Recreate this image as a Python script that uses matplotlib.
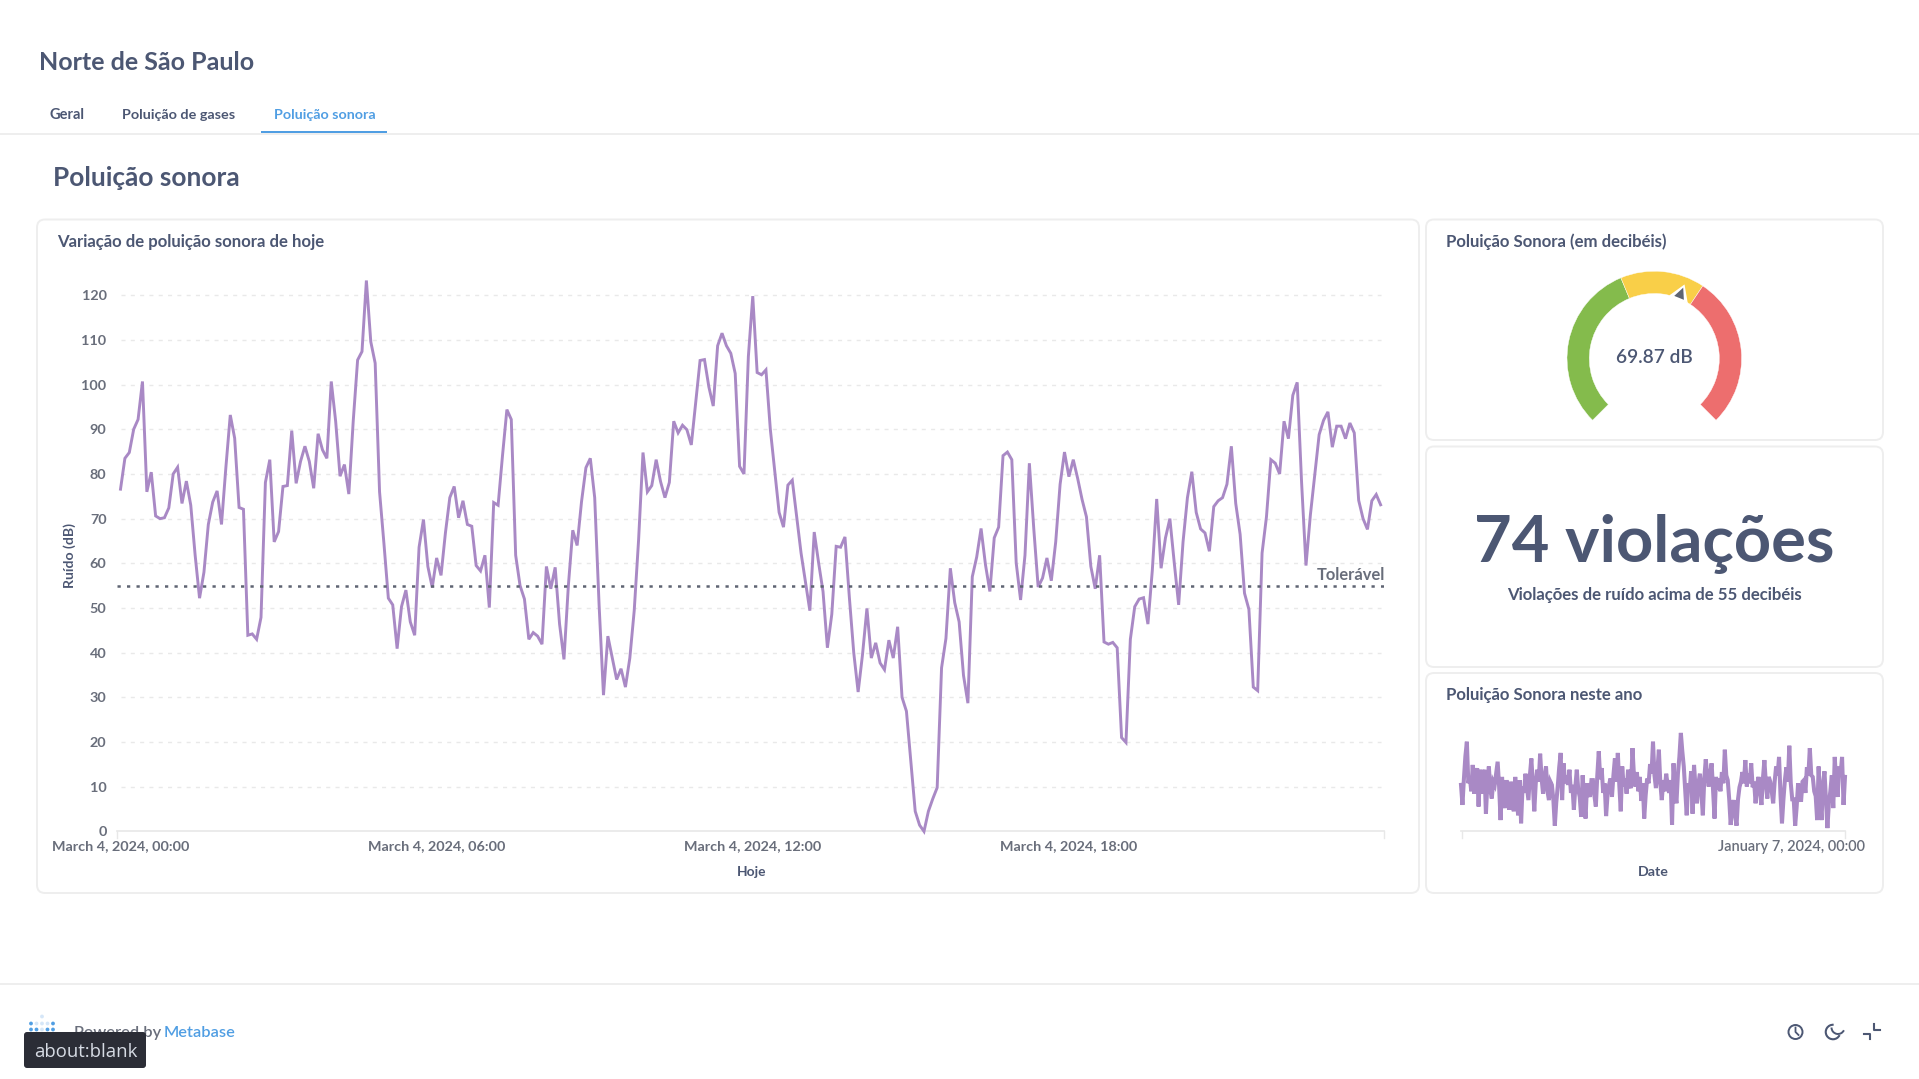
import numpy as np
import matplotlib
matplotlib.use('Agg')
import matplotlib.pyplot as plt
from matplotlib.patches import FancyBboxPatch, Rectangle, Wedge, Polygon, Circle, Arc

plt.rcParams['font.family'] = ['Lato', 'DejaVu Sans']

# noise of today, one reading every 5 minutes
noise_today = [
    76.6, 83.5, 84.8, 90, 92.2, 100.7, 76, 80.4, 70.6, 70, 70.2, 72.4, 80, 81.5, 73.4, 78.4, 73, 61.8,
    52.2, 58, 68.7, 73.7, 76.2, 68.7, 81.5, 93.2, 88, 72.5, 72.1, 43.9, 44.2, 43, 47.9, 78.1, 83.2, 64.8,
    67.1, 77.2, 77.4, 89.7, 77.9, 82.8, 86.2, 82.8, 76.8, 89, 85.4, 83.5, 100.7, 91.8, 79.5, 82.1, 75.5, 91.8,
    105.5, 107.4, 123.3, 109.6, 104.8, 76, 64.4, 52.2, 50.7, 40.9, 50.3, 54, 46.9, 43.9, 63.6, 69.8, 59.3, 54.6,
    61.2, 57.3, 66.8, 74.7, 77.2, 70.2, 74, 68.7, 68.3, 59.5, 58.3, 61.8, 50.1, 73.6, 73, 84.1, 94.4, 92.2,
    61.8, 55, 52, 43, 44.5, 43.7, 41.9, 59.3, 54.3, 59.1, 46.4, 38.5, 55, 67.4, 64, 73.8, 81.4, 83.5,
    74.7, 50.7, 30.5, 43.7, 38.8, 34, 36.4, 32.3, 38.8, 49.4, 65.3, 84.8, 76, 77.4, 83.2, 78.3, 74.7, 78.1,
    91.8, 89.2, 90.9, 89.9, 86.5, 96, 105.4, 105.6, 99.5, 95.2, 108.7, 111.5, 108.7, 107, 102.5, 81.7, 80, 106.3,
    119.8, 102.7, 102.2, 103.3, 90, 80.7, 71.4, 68.1, 77.5, 78.6, 70.4, 62.3, 55.9, 49.4, 67, 60.1, 53.7, 41.1,
    48.6, 63.8, 63.6, 65.9, 52.4, 40, 31.2, 39.6, 49.9, 38.8, 42.2, 37.7, 36.2, 42.8, 38.8, 45.8, 30, 26.9,
    15.7, 4.5, 1.4, 0, 4.5, 7.3, 9.8, 36.6, 43.2, 58.9, 51.2, 46.9, 34.9, 28.7, 57, 61.4, 67.8, 59.7,
    53.7, 65.7, 68.1, 84.1, 84.9, 83.2, 60.1, 51.8, 61.8, 82.4, 67.8, 54.7, 56.7, 61.2, 56.1, 64.8, 77.7, 84.9,
    79.4, 83.2, 79, 74.3, 70.4, 59.3, 54.3, 61.8, 42.4, 41.9, 42.3, 41.1, 21, 19.9, 43, 50.3, 52, 52.3,
    46.4, 58.4, 74.4, 58.9, 65.7, 70, 60.1, 50.7, 64.8, 74.7, 80.5, 71.4, 67.7, 66.8, 62.7, 72.7, 74, 74.7,
    77.7, 86.2, 73.4, 66.5, 53.3, 49.7, 32.3, 31.5, 62.3, 70.4, 83.2, 82.4, 80, 91.8, 87.9, 97.6, 100.5, 78.1,
    59.5, 70.8, 79.8, 88.8, 92, 93.9, 86, 90.7, 90.7, 87.9, 91.4, 89.2, 74.1, 70, 67.6, 74, 75.4, 73.1,
]

# year chart, read by eye along the band
year_db = [
    58, 33, 66, 94, 112, 60, 68, 50, 83, 47, 62, 79, 31, 77, 47, 65, 77, 22, 60, 81,
    52, 41, 62, 58, 72, 87, 56, 14, 68, 42, 29, 64, 44, 27, 62, 45, 25, 68, 40, 20,
    64, 10, 56, 48, 72, 55, 39, 70, 91, 60, 25, 60, 77, 62, 97, 66, 47, 68, 81, 50,
    39, 62, 58, 40, 7, 36, 56, 80, 98, 39, 85, 60, 70, 58, 77, 48, 58, 27, 55, 77,
    52, 43, 18, 70, 40, 16, 60, 50, 43, 64, 64, 45, 31, 70, 100, 65, 79, 48, 60, 19,
    46, 58, 66, 43, 70, 91, 62, 98, 58, 25, 81, 56, 66, 47, 77, 58, 54, 104, 70, 56,
    74, 50, 68, 38, 60, 16, 45, 66, 60, 84, 72, 112, 70, 54, 76, 102, 60, 39, 64, 50,
    72, 58, 48, 64, 8, 85, 50, 35, 72, 93, 123, 100, 81, 50, 20, 60, 50, 75, 22, 83,
    55, 35, 60, 72, 48, 20, 66, 90, 70, 56, 72, 85, 50, 16, 68, 52, 66, 50, 74, 60,
    102, 70, 64, 40, 8, 30, 39, 20, 7, 40, 55, 62, 74, 60, 89, 56, 72, 60, 85, 55,
    62, 35, 58, 68, 48, 33, 66, 89, 60, 41, 68, 62, 50, 35, 62, 81, 70, 93, 45, 10,
    40, 64, 80, 62, 107, 60, 40, 40, 7, 30, 60, 46, 37, 62, 64, 48, 80, 70, 104, 70,
    68, 50, 44, 14, 81, 40, 14, 60, 75, 40, 4, 35, 50, 70, 29, 93, 60, 43, 81, 72,
    93, 33, 68,
]

y_ticks = [0, 10, 20, 30, 40, 50, 60, 70, 80, 90, 100, 110, 120]
x_tick_hours = [0, 6, 12, 18]
x_tick_labels = ['March 4, 2024, 00:00', 'March 4, 2024, 06:00', 'March 4, 2024, 12:00', 'March 4, 2024, 18:00']
limit_db = 55
gauge_stops = [0, 50, 75, 120]
gauge_value = 69.87

DARK = '#4C5773'
GREY = '#696E7B'
BLUE = '#509EE3'
PURPLE = '#A989C5'
BORDER = '#EEEEEE'
W, H = 1919, 1079

fig = plt.figure(figsize=(W / 100, H / 100), dpi=100, facecolor='white')


def px_axes(x0, y0, x1, y1):
    # axes given in picture pixels, y counted from the top
    ax = fig.add_axes([x0 / W, 1 - y1 / H, (x1 - x0) / W, (y1 - y0) / H])
    ax.patch.set_alpha(0)
    return ax


bg = fig.add_axes([0, 0, 1, 1])
bg.set_xlim(0, W)
bg.set_ylim(H, 0)
bg.axis('off')


def txt(x, y, s, size, color=DARK, weight='bold', ha='left', **kw):
    bg.text(x, y + 1, s, fontsize=size * 0.72, color=color, fontweight=weight, ha=ha, va='center', **kw)


def card(x0, y0, x1, y1):
    bg.add_patch(FancyBboxPatch((x0 + 8, y0 + 8), x1 - x0 - 16, y1 - y0 - 16, boxstyle='round,pad=8,rounding_size=8',
                                fc='white', ec=BORDER, lw=1.4))


# header
txt(39, 61.5, 'Norte de São Paulo', 25)
txt(50, 114, 'Geral', 14.6)
txt(122.5, 114, 'Poluição de gases', 14.4)
txt(273.5, 114, 'Poluição sonora', 14.3, color=BLUE)
bg.plot([0, W], [133.5, 133.5], color=BORDER, lw=1.4)
bg.add_patch(Rectangle((261, 131), 126, 2.2, color=BLUE, lw=0))
txt(53, 177, 'Poluição sonora', 26.3)

card(37, 219.5, 1419, 893)
card(1426, 219.5, 1883, 440)
card(1426, 446.5, 1883, 667)
card(1426, 673, 1883, 893)

txt(57, 241, 'Variação de poluição sonora de hoje', 16.7)
txt(1446, 241, 'Poluição Sonora (em decibéis)', 16.7)
txt(1446, 694, 'Poluição Sonora neste ano', 16.7)

# main line chart
ax_bottom = 831.4
ax = px_axes(117, 270, 1384, ax_bottom)
hours = np.arange(len(noise_today)) * 5 / 60
ax.set_xlim(-0.8 * 5 / 60, 24 - 5 / 60 + 0.77 * 5 / 60)
ax.set_ylim(0, (ax_bottom - 270) / 4.468)
for s in ['top', 'left', 'right']:
    ax.spines[s].set_visible(False)
ax.spines['bottom'].set_color('#E8E8E8')
ax.spines['bottom'].set_linewidth(1.2)
ax.set_yticks(y_ticks)
ax.set_yticklabels([str(v) for v in y_ticks], fontsize=10.4, color=GREY, fontweight='bold')
ax.tick_params(axis='y', length=0, pad=7.5)
ax.set_xticks(x_tick_hours)
ax.set_xticklabels(x_tick_labels, fontsize=10.4, color=GREY, fontweight='bold')
ax.tick_params(axis='x', length=0, pad=6.5)
for v in y_ticks[1:]:
    ax.plot([hours[0], hours[-1]], [v, v], color='#E9E9E9', lw=1, dashes=(2.9, 3.8), zorder=1)
ax.plot(hours, noise_today, color=PURPLE, lw=2.1, zorder=3, solid_joinstyle='miter', clip_on=False)
ax.plot(ax.get_xlim(), [limit_db, limit_db], color='#5E6472', lw=1.8, dashes=(1.3, 2.5), zorder=4)
bg.plot([117, 117], [ax_bottom, 838], color='#E8E8E8', lw=1)
bg.plot([1384, 1384], [ax_bottom, 838], color='#E8E8E8', lw=1)
txt(1385, 574, 'Tolerável', 16.5, color=GREY, ha='right')
txt(70, 555, 'Ruído (dB)', 14, rotation=90, ha='center')
txt(751.5, 871, 'Hoje', 13.8, ha='center')

# gauge
gx = px_axes(1654.3 - 100, 358.5 - 100, 1654.3 + 100, 358.5 + 100)
gx.set_xlim(-100, 100)
gx.set_ylim(-100, 100)
gx.axis('off')
gauge_colors = ['#84BB4C', '#F9CF48', '#ED6E6E']


def gauge_angle(v):
    return 225 - 270 * v / gauge_stops[-1]


for i in range(3):
    gx.add_patch(Wedge((0, 0), 87.3, gauge_angle(gauge_stops[i + 1]), gauge_angle(gauge_stops[i]), width=22.3,
                       fc=gauge_colors[i], ec='white', lw=0.3))
a = np.radians(gauge_angle(gauge_value))
rad = np.array([np.cos(a), np.sin(a)])
side = np.array([-np.sin(a), np.cos(a)])
gx.add_patch(Polygon([rad * 80, rad * 64 + side * 10, rad * 64 - side * 10], fc='white', ec='none', zorder=3))
gx.add_patch(Polygon([rad * 76.5, rad * 65.5 + side * 5.2, rad * 65.5 - side * 5.2], fc='#5E6472', ec='none', zorder=4))
txt(1654, 356.5, '69.87 dB', 19, weight='semibold', ha='center')

# number card
txt(1654, 543, '74 violações', 65, ha='center')
txt(1654, 594, 'Violações de ruído acima de 55 decibéis', 16.8, ha='center')

# small line chart
sx = px_axes(1461, 731.3, 1845, 831.3)
sx.set_xlim(0, 144)
sx.set_ylim(0, 125)
for s in ['top', 'left', 'right']:
    sx.spines[s].set_visible(False)
sx.spines['bottom'].set_color('#E8E8E8')
sx.spines['bottom'].set_linewidth(1.2)
sx.set_yticks([])
sx.set_xticks([])
sx.plot(np.linspace(0, 144, len(year_db)), year_db, color=PURPLE, lw=2.9, solid_joinstyle='miter', clip_on=False)
bg.plot([1461.5, 1461.5], [831.3, 838], color='#E8E8E8', lw=1)
bg.plot([1844.5, 1844.5], [831.3, 838], color='#E8E8E8', lw=1)
txt(1865, 846.5, 'January 7, 2024, 00:00', 14.5, color=GREY, weight='semibold', ha='right')
txt(1653, 870.5, 'Date', 14.3, ha='center')

# footer
bg.plot([0, W], [984, 984], color=BORDER, lw=1.4)
logo_rows = [(1016.5, [42], ['#D5E6F8']),
             (1023.5, [31, 36.5, 42, 47.5, 53], [BLUE, '#D5E6F8', '#D5E6F8', '#D5E6F8', BLUE]),
             (1029.5, [31, 36.5, 42, 47.5, 53], [BLUE, BLUE, '#D5E6F8', BLUE, BLUE])]
for y, xs, cols in logo_rows:
    for x, c in zip(xs, cols):
        bg.add_patch(Circle((x, y), 1.9, fc=c, ec='none'))
txt(74, 1032, 'Powered by', 16.4, color=GREY, weight='semibold')
txt(164, 1032, 'Metabase', 16.4, color=BLUE, weight='semibold')
bg.add_patch(FancyBboxPatch((27, 1035), 116, 30, boxstyle='round,pad=3,rounding_size=3', fc='#2B2D36', ec='none', zorder=5))
bg.text(34, 1052, 'about:blank', fontsize=13.3, color='#D6DBE4', va='center', zorder=6, family=['Open Sans', 'DejaVu Sans'])

# clock, moon and shrink icons
bg.add_patch(Circle((1795.5, 1032), 7, fc='none', ec=DARK, lw=1.4))
bg.plot([1795.5, 1795.5, 1798.5], [1027.5, 1032, 1035], color=DARK, lw=1.3)
bg.add_patch(Arc((1833, 1032), 14.5, 14.5, angle=0, theta1=25, theta2=275, ec=DARK, lw=1.5))
bg.add_patch(Arc((1838, 1027.5), 13, 13, angle=0, theta1=25, theta2=180, ec=DARK, lw=1.4))
bg.plot([1864, 1870, 1870], [1033.5, 1033.5, 1039], color=DARK, lw=1.5)
bg.plot([1874, 1874, 1880], [1024, 1030, 1030], color=DARK, lw=1.5)

fig.savefig('out.png', dpi=100)
